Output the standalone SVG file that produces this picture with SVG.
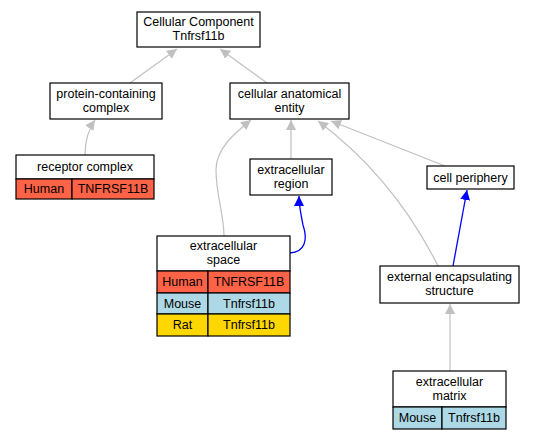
<svg xmlns="http://www.w3.org/2000/svg" width="535" height="440" viewBox="0 0 535 440">
<style>
text{font-family:"Liberation Sans",Arial,sans-serif;font-size:12.5px;text-anchor:middle;fill:#000}
.box{fill:#fff;stroke:#000;stroke-width:1.2}
.cell{stroke:#000;stroke-width:1.2}
.h{fill:#ff6347}.m{fill:#add8e6}.r{fill:#ffd700}
.e{fill:none;stroke:#c0c0c0;stroke-width:1.2}
.b{fill:none;stroke:#0000ff;stroke-width:1.3}
</style>
<defs>
<marker id="ag" viewBox="0 0 10 10" refX="10" refY="5" markerWidth="10" markerHeight="10" markerUnits="userSpaceOnUse" orient="auto"><path d="M0,0L10,5L0,10z" fill="#c0c0c0"/></marker>
<marker id="ab" viewBox="0 0 10 10" refX="10" refY="5" markerWidth="10" markerHeight="10" markerUnits="userSpaceOnUse" orient="auto"><path d="M0,0L10,5L0,10z" fill="#0000ff"/></marker>
</defs>
<g id="edges">
<path class="e" d="M130,83L177,49" marker-end="url(#ag)"/>
<path class="e" d="M267,83L220,49" marker-end="url(#ag)"/>
<path class="e" d="M85,155C85,142 88,130 95,120" marker-end="url(#ag)"/>
<path class="e" d="M224,236C224,215 216,195 216,170C216,148 236,132 251,120" marker-end="url(#ag)"/>
<path class="e" d="M291,159L291,120" marker-end="url(#ag)"/>
<path class="e" d="M445,166L331,121" marker-end="url(#ag)"/>
<path class="e" d="M438,266C410,210 370,160 318,121" marker-end="url(#ag)"/>
<path class="b" d="M290,253C305,252 308,240 303,225C301,215 299,206 299,196" marker-end="url(#ab)"/>
<path class="b" d="M453,266L467,190" marker-end="url(#ab)"/>
<path class="e" d="M450,371L450,304" marker-end="url(#ag)"/>
</g>
<g id="n_cc">
<rect class="box" x="137" y="12" width="123" height="35"/>
<text x="198.5" y="26">Cellular Component</text>
<text x="198.5" y="40">Tnfrsf11b</text>
</g>
<g id="n_pcc">
<rect class="box" x="50" y="83" width="112" height="36"/>
<text x="106" y="98">protein-containing</text>
<text x="106" y="112">complex</text>
</g>
<g id="n_cae">
<rect class="box" x="230" y="83" width="119" height="36"/>
<text x="289.5" y="98">cellular anatomical</text>
<text x="289.5" y="112">entity</text>
</g>
<g id="n_rc">
<rect class="box" x="16" y="155" width="138" height="24"/>
<text x="85" y="171">receptor complex</text>
<rect class="cell h" x="16" y="179" width="56" height="20"/>
<rect class="cell h" x="72" y="179" width="82" height="20"/>
<text x="44" y="193">Human</text>
<text x="113" y="193">TNFRSF11B</text>
</g>
<g id="n_er">
<rect class="box" x="250" y="159" width="82" height="36"/>
<text x="291" y="174">extracellular</text>
<text x="291" y="188">region</text>
</g>
<g id="n_cp">
<rect class="box" x="427" y="166" width="87" height="23"/>
<text x="470.5" y="182">cell periphery</text>
</g>
<g id="n_es">
<rect class="box" x="157" y="236" width="133" height="35"/>
<text x="223.5" y="250">extracellular</text>
<text x="223.5" y="264">space</text>
<rect class="cell h" x="157" y="271" width="51" height="22"/>
<rect class="cell h" x="208" y="271" width="82" height="22"/>
<text x="182.5" y="286">Human</text>
<text x="249" y="286">TNFRSF11B</text>
<rect class="cell m" x="157" y="293" width="51" height="21"/>
<rect class="cell m" x="208" y="293" width="82" height="21"/>
<text x="182.5" y="308">Mouse</text>
<text x="249" y="308">Tnfrsf11b</text>
<rect class="cell r" x="157" y="314" width="51" height="22"/>
<rect class="cell r" x="208" y="314" width="82" height="22"/>
<text x="182.5" y="329">Rat</text>
<text x="249" y="329">Tnfrsf11b</text>
</g>
<g id="n_ees">
<rect class="box" x="380" y="266" width="139" height="37"/>
<text x="449.5" y="281">external encapsulating</text>
<text x="449.5" y="295">structure</text>
</g>
<g id="n_em">
<rect class="box" x="393" y="371" width="113" height="36"/>
<text x="449.5" y="386">extracellular</text>
<text x="449.5" y="400">matrix</text>
<rect class="cell m" x="393" y="407" width="49" height="22"/>
<rect class="cell m" x="442" y="407" width="64" height="22"/>
<text x="417.5" y="422">Mouse</text>
<text x="474" y="422">Tnfrsf11b</text>
</g>
</svg>
